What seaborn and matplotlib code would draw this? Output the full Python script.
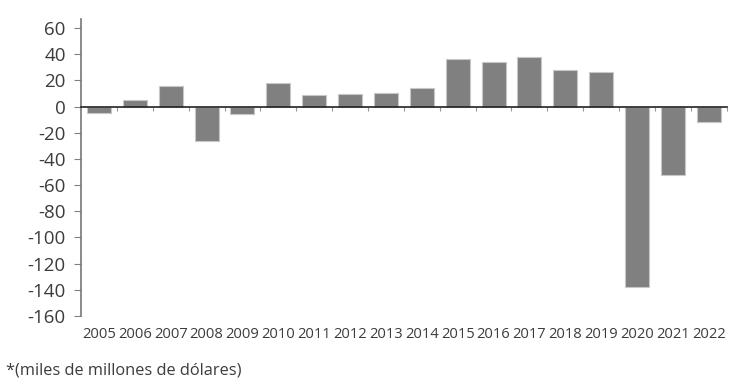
import matplotlib
matplotlib.use("Agg")
import matplotlib.pyplot as plt
import seaborn as sns
import pandas as pd
import numpy as np

# Datos (miles de millones de dólares)
years = [str(y) for y in range(2005, 2023)]
values = [-5, 5.3, 15.5, -26.5, -5.3, 17.8, 8.9, 9.7, 10.4, 14.3,
          36.4, 34.4, 38, 27.7, 26.7, -138, -52.5, -12]
y_ticks = [60, 40, 20, 0, -20, -40, -60, -80, -100, -120, -140, -160]

df = pd.DataFrame({"Año": years, "Valor": values})

sns.set_style("white")
plt.rcParams["font.family"] = ["Open Sans", "DejaVu Sans"]
text_color = "#3c3c3c"

fig = plt.figure(figsize=(7.37, 3.88), dpi=100)
ax = fig.add_axes([0.110, 0.186, 0.876, 0.765])

sns.barplot(data=df, x="Año", y="Valor", color="#808080", saturation=1,
            width=0.67, edgecolor="#c8c8c8", linewidth=0.8, ax=ax)

ax.set_ylim(-160, 67)
ax.set_xlim(-0.5, len(years) - 0.5)
ax.set_yticks(y_ticks)
ax.set_yticklabels([str(t) for t in y_ticks], fontsize=13.5, color=text_color)
ax.tick_params(axis="y", length=5, width=0.8, color="#808080", pad=6, left=True)

# eje x en el cero con marcas entre categorías
ax.spines["bottom"].set_position(("data", 0))
ax.spines["bottom"].set_color("#222222")
ax.spines["bottom"].set_linewidth(1.2)
ax.spines["left"].set_color("#777777")
ax.spines["left"].set_linewidth(1.2)
ax.spines["top"].set_visible(False)
ax.spines["right"].set_visible(False)
ax.set_xticks(np.arange(len(years)) + 0.5)
ax.set_xticklabels([])
ax.tick_params(axis="x", length=3, width=0.8, color="#999999", bottom=True)
ax.set_xlabel("")
ax.set_ylabel("")

# etiquetas de año al pie del eje
sec = ax.secondary_xaxis(0)
sec.set_xticks(range(len(years)))
sec.set_xticklabels(years, fontsize=10.6, color=text_color)
sec.tick_params(length=0, pad=8)
sec.spines["bottom"].set_visible(False)

fig.text(0.008, 0.024, "*(miles de millones de dólares)", fontsize=11.8,
         color=text_color, ha="left", va="bottom")

fig.savefig("out.png", dpi=100)
